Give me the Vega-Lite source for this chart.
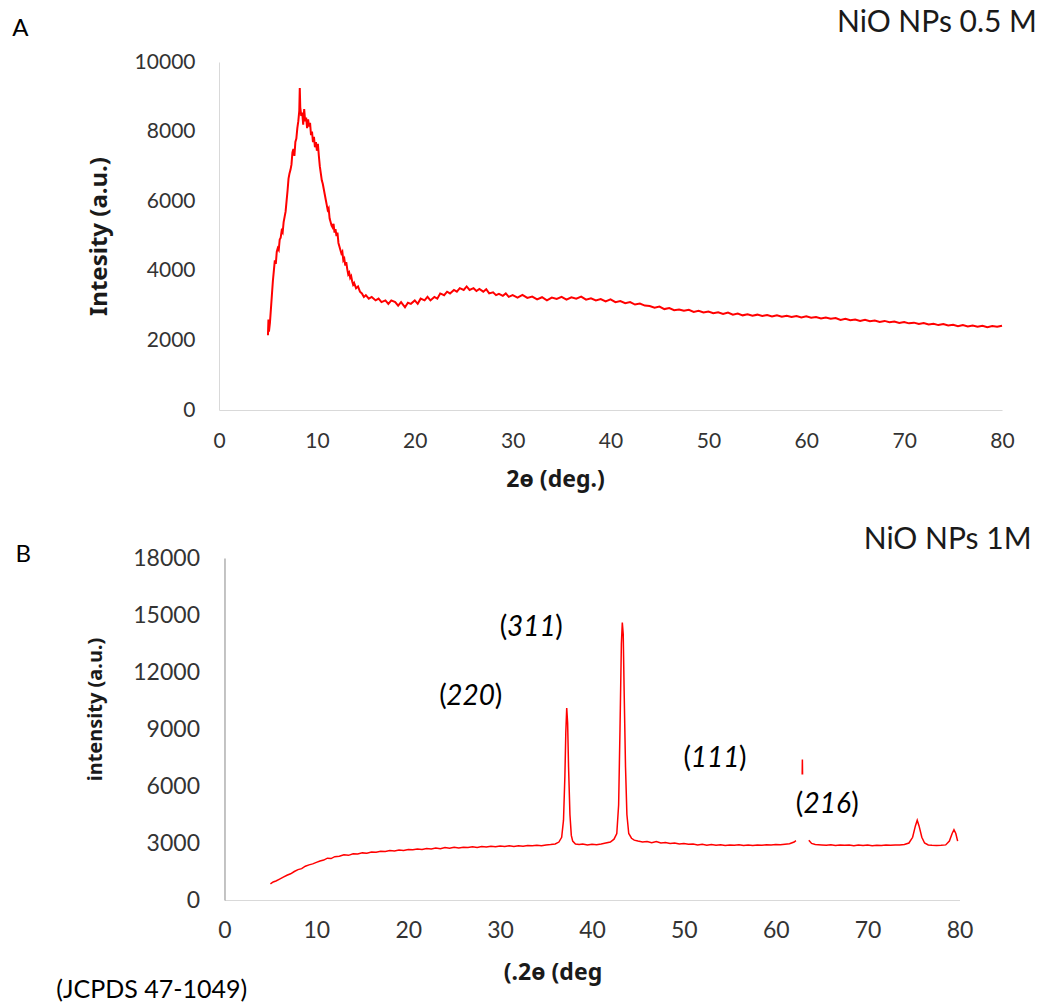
{
"$schema": "https://vega.github.io/schema/vega-lite/v6.json",
"padding": {"left": 12, "top": 7, "right": 4, "bottom": 0},
"background": "white",
"center": true,
"spacing": 34,
"config": {"view": {"stroke": null}, "font": "Lato",
  "axis": {"grid": false, "ticks": false, "tickSize": 0, "labelFont": "Lato", "titleFont": "Noto Sans", "labelColor": "#333333", "titleColor": "#1a1a1a", "titleFontWeight": "bold", "labelFlush": false, "labelOverlap": false, "format": "d"}},
"datasets": {
"a": [
{"x":5.0,"y":2150},{"x":5.05,"y":2600},{"x":5.1,"y":2250},{"x":5.2,"y":2500},{"x":5.3,"y":2900},{"x":5.4,"y":3300},{"x":5.5,"y":3700},{"x":5.6,"y":4000},{"x":5.7,"y":4300},{"x":5.8,"y":4200},{"x":5.9,"y":4550},{"x":6.0,"y":4650},{"x":6.1,"y":4600},{"x":6.2,"y":4900},{"x":6.3,"y":4950},{"x":6.4,"y":5150},{"x":6.5,"y":5100},{"x":6.6,"y":5400},{"x":6.7,"y":5550},{"x":6.8,"y":5700},{"x":6.9,"y":6000},{"x":7.0,"y":6300},{"x":7.1,"y":6650},{"x":7.2,"y":6800},{"x":7.3,"y":6900},{"x":7.4,"y":7050},{"x":7.5,"y":7400},{"x":7.6,"y":7500},{"x":7.7,"y":7300},{"x":7.8,"y":7700},{"x":7.9,"y":7800},{"x":8.0,"y":8100},{"x":8.1,"y":8300},{"x":8.2,"y":8600},{"x":8.25,"y":9250},{"x":8.3,"y":8700},{"x":8.4,"y":8450},{"x":8.5,"y":8550},{"x":8.6,"y":8200},{"x":8.7,"y":8650},{"x":8.8,"y":8300},{"x":8.9,"y":8400},{"x":9.0,"y":8100},{"x":9.1,"y":8350},{"x":9.2,"y":8150},{"x":9.3,"y":8250},{"x":9.4,"y":7900},{"x":9.5,"y":8000},{"x":9.6,"y":7700},{"x":9.7,"y":7850},{"x":9.8,"y":7550},{"x":9.9,"y":7700},{"x":10.0,"y":7450},{"x":10.1,"y":7650},{"x":10.2,"y":7300},{"x":10.3,"y":7000},{"x":10.4,"y":6800},{"x":10.5,"y":6600},{"x":10.6,"y":6500},{"x":10.7,"y":6350},{"x":10.8,"y":6200},{"x":10.9,"y":6050},{"x":11.0,"y":5900},{"x":11.1,"y":5750},{"x":11.2,"y":5800},{"x":11.3,"y":5500},{"x":11.4,"y":5400},{"x":11.5,"y":5300},{"x":11.6,"y":5250},{"x":11.7,"y":5350},{"x":11.8,"y":5100},{"x":11.9,"y":5200},{"x":12.0,"y":5000},{"x":12.1,"y":5100},{"x":12.2,"y":4800},{"x":12.3,"y":4700},{"x":12.4,"y":4600},{"x":12.5,"y":4500},{"x":12.6,"y":4550},{"x":12.7,"y":4300},{"x":12.8,"y":4350},{"x":12.9,"y":4150},{"x":13.0,"y":4250},{"x":13.1,"y":4050},{"x":13.2,"y":3900},{"x":13.3,"y":3950},{"x":13.4,"y":3800},{"x":13.5,"y":3850},{"x":13.6,"y":3700},{"x":13.7,"y":3600},{"x":13.8,"y":3650},{"x":14.0,"y":3500},{"x":14.2,"y":3550},{"x":14.4,"y":3400},{"x":14.6,"y":3350},{"x":14.8,"y":3250},{"x":15.0,"y":3300},{"x":15.3,"y":3200},{"x":15.6,"y":3250},{"x":16.0,"y":3150},{"x":16.3,"y":3200},{"x":16.6,"y":3100},{"x":17.0,"y":3150},{"x":17.3,"y":3050},{"x":17.6,"y":3150},{"x":18.0,"y":3100},{"x":18.3,"y":3000},{"x":18.6,"y":3100},{"x":19.0,"y":2950},{"x":19.3,"y":3080},{"x":19.6,"y":3050},{"x":20.0,"y":3150},{"x":20.3,"y":3050},{"x":20.6,"y":3200},{"x":21.0,"y":3150},{"x":21.3,"y":3250},{"x":21.6,"y":3150},{"x":22.0,"y":3250},{"x":22.3,"y":3200},{"x":22.6,"y":3350},{"x":23.0,"y":3300},{"x":23.3,"y":3400},{"x":23.6,"y":3350},{"x":24.0,"y":3450},{"x":24.3,"y":3400},{"x":24.6,"y":3500},{"x":25.0,"y":3450},{"x":25.3,"y":3550},{"x":25.6,"y":3450},{"x":26.0,"y":3500},{"x":26.3,"y":3420},{"x":26.6,"y":3480},{"x":27.0,"y":3400},{"x":27.3,"y":3470},{"x":27.6,"y":3350},{"x":28.0,"y":3380},{"x":28.3,"y":3300},{"x":28.6,"y":3340},{"x":29.0,"y":3280},{"x":29.3,"y":3350},{"x":29.6,"y":3250},{"x":30.0,"y":3300},{"x":30.5,"y":3230},{"x":31.0,"y":3310},{"x":31.5,"y":3220},{"x":32.0,"y":3260},{"x":32.5,"y":3180},{"x":33.0,"y":3240},{"x":33.5,"y":3150},{"x":34.0,"y":3230},{"x":34.5,"y":3190},{"x":35.0,"y":3250},{"x":35.5,"y":3170},{"x":36.0,"y":3240},{"x":36.5,"y":3200},{"x":37.0,"y":3260},{"x":37.5,"y":3170},{"x":38.0,"y":3210},{"x":38.5,"y":3150},{"x":39.0,"y":3190},{"x":39.5,"y":3120},{"x":40.0,"y":3180},{"x":40.5,"y":3100},{"x":41.0,"y":3130},{"x":41.5,"y":3070},{"x":42.0,"y":3100},{"x":42.5,"y":3030},{"x":43.0,"y":3060},{"x":43.5,"y":3000},{"x":44.0,"y":2990},{"x":44.5,"y":2940},{"x":45.0,"y":2970},{"x":45.5,"y":2900},{"x":46.0,"y":2930},{"x":46.5,"y":2870},{"x":47.0,"y":2890},{"x":47.5,"y":2850},{"x":48.0,"y":2880},{"x":48.5,"y":2820},{"x":49.0,"y":2850},{"x":49.5,"y":2800},{"x":50.0,"y":2830},{"x":50.5,"y":2780},{"x":51.0,"y":2810},{"x":51.5,"y":2760},{"x":52.0,"y":2800},{"x":52.5,"y":2740},{"x":53.0,"y":2770},{"x":53.5,"y":2720},{"x":54.0,"y":2750},{"x":54.5,"y":2710},{"x":55.0,"y":2740},{"x":55.5,"y":2700},{"x":56.0,"y":2730},{"x":56.5,"y":2690},{"x":57.0,"y":2720},{"x":57.5,"y":2680},{"x":58.0,"y":2710},{"x":58.5,"y":2670},{"x":59.0,"y":2700},{"x":59.5,"y":2660},{"x":60.0,"y":2690},{"x":60.5,"y":2650},{"x":61.0,"y":2670},{"x":61.5,"y":2630},{"x":62.0,"y":2660},{"x":62.5,"y":2620},{"x":63.0,"y":2640},{"x":63.5,"y":2590},{"x":64.0,"y":2620},{"x":64.5,"y":2580},{"x":65.0,"y":2600},{"x":65.5,"y":2560},{"x":66.0,"y":2590},{"x":66.5,"y":2550},{"x":67.0,"y":2570},{"x":67.5,"y":2530},{"x":68.0,"y":2560},{"x":68.5,"y":2520},{"x":69.0,"y":2540},{"x":69.5,"y":2500},{"x":70.0,"y":2530},{"x":70.5,"y":2490},{"x":71.0,"y":2510},{"x":71.5,"y":2470},{"x":72.0,"y":2500},{"x":72.5,"y":2460},{"x":73.0,"y":2480},{"x":73.5,"y":2440},{"x":74.0,"y":2470},{"x":74.5,"y":2430},{"x":75.0,"y":2450},{"x":75.5,"y":2410},{"x":76.0,"y":2440},{"x":76.5,"y":2400},{"x":77.0,"y":2430},{"x":77.5,"y":2390},{"x":78.0,"y":2420},{"x":78.5,"y":2380},{"x":79.0,"y":2410},{"x":79.5,"y":2390},{"x":80.0,"y":2420}
],
"b": [
{"s":1,"x":5.0,"y":850},{"s":1,"x":5.3,"y":950},{"s":1,"x":5.6,"y":1000},{"s":1,"x":6.0,"y":1100},{"s":1,"x":6.4,"y":1200},{"s":1,"x":6.8,"y":1300},{"s":1,"x":7.2,"y":1380},{"s":1,"x":7.6,"y":1500},{"s":1,"x":8.0,"y":1600},{"s":1,"x":8.4,"y":1650},{"s":1,"x":8.8,"y":1780},{"s":1,"x":9.2,"y":1850},{"s":1,"x":9.6,"y":1900},{"s":1,"x":10.0,"y":1980},{"s":1,"x":10.4,"y":2050},{"s":1,"x":10.8,"y":2100},{"s":1,"x":11.2,"y":2200},{"s":1,"x":11.6,"y":2180},{"s":1,"x":12.0,"y":2280},{"s":1,"x":12.5,"y":2300},{"s":1,"x":13.0,"y":2380},{"s":1,"x":13.5,"y":2350},{"s":1,"x":14.0,"y":2430},{"s":1,"x":14.5,"y":2420},{"s":1,"x":15.0,"y":2480},{"s":1,"x":15.5,"y":2460},{"s":1,"x":16.0,"y":2530},{"s":1,"x":16.5,"y":2510},{"s":1,"x":17.0,"y":2560},{"s":1,"x":17.5,"y":2550},{"s":1,"x":18.0,"y":2600},{"s":1,"x":18.5,"y":2580},{"s":1,"x":19.0,"y":2630},{"s":1,"x":19.5,"y":2610},{"s":1,"x":20.0,"y":2660},{"s":1,"x":20.5,"y":2640},{"s":1,"x":21.0,"y":2680},{"s":1,"x":21.5,"y":2660},{"s":1,"x":22.0,"y":2710},{"s":1,"x":22.5,"y":2690},{"s":1,"x":23.0,"y":2730},{"s":1,"x":23.5,"y":2700},{"s":1,"x":24.0,"y":2760},{"s":1,"x":24.5,"y":2720},{"s":1,"x":25.0,"y":2770},{"s":1,"x":25.5,"y":2740},{"s":1,"x":26.0,"y":2780},{"s":1,"x":26.5,"y":2760},{"s":1,"x":27.0,"y":2800},{"s":1,"x":27.5,"y":2770},{"s":1,"x":28.0,"y":2810},{"s":1,"x":28.5,"y":2790},{"s":1,"x":29.0,"y":2830},{"s":1,"x":29.5,"y":2800},{"s":1,"x":30.0,"y":2840},{"s":1,"x":30.5,"y":2810},{"s":1,"x":31.0,"y":2850},{"s":1,"x":31.5,"y":2820},{"s":1,"x":32.0,"y":2860},{"s":1,"x":32.5,"y":2830},{"s":1,"x":33.0,"y":2870},{"s":1,"x":33.5,"y":2850},{"s":1,"x":34.0,"y":2880},{"s":1,"x":34.5,"y":2860},{"s":1,"x":35.0,"y":2900},{"s":1,"x":35.5,"y":2920},{"s":1,"x":36.0,"y":2950},{"s":1,"x":36.4,"y":3050},{"s":1,"x":36.7,"y":3300},{"s":1,"x":36.9,"y":4200},{"s":1,"x":37.05,"y":6500},{"s":1,"x":37.15,"y":8800},{"s":1,"x":37.25,"y":10100},{"s":1,"x":37.35,"y":9300},{"s":1,"x":37.45,"y":7000},{"s":1,"x":37.6,"y":4500},{"s":1,"x":37.75,"y":3400},{"s":1,"x":37.9,"y":3100},{"s":1,"x":38.2,"y":2950},{"s":1,"x":38.6,"y":2920},{"s":1,"x":39.0,"y":2950},{"s":1,"x":39.5,"y":2900},{"s":1,"x":40.0,"y":2930},{"s":1,"x":40.5,"y":2910},{"s":1,"x":41.0,"y":2950},{"s":1,"x":41.5,"y":3000},{"s":1,"x":42.0,"y":3050},{"s":1,"x":42.4,"y":3200},{"s":1,"x":42.7,"y":3500},{"s":1,"x":42.9,"y":5000},{"s":1,"x":43.05,"y":9000},{"s":1,"x":43.2,"y":13500},{"s":1,"x":43.3,"y":14600},{"s":1,"x":43.4,"y":14000},{"s":1,"x":43.5,"y":11000},{"s":1,"x":43.65,"y":7000},{"s":1,"x":43.8,"y":4500},{"s":1,"x":44.0,"y":3500},{"s":1,"x":44.3,"y":3250},{"s":1,"x":44.6,"y":3150},{"s":1,"x":45.0,"y":3100},{"s":1,"x":45.5,"y":3050},{"s":1,"x":46.0,"y":3080},{"s":1,"x":46.5,"y":3020},{"s":1,"x":47.0,"y":3080},{"s":1,"x":47.5,"y":3000},{"s":1,"x":48.0,"y":3020},{"s":1,"x":48.5,"y":2980},{"s":1,"x":49.0,"y":3000},{"s":1,"x":49.5,"y":2950},{"s":1,"x":50.0,"y":2970},{"s":1,"x":50.5,"y":2930},{"s":1,"x":51.0,"y":2950},{"s":1,"x":51.5,"y":2900},{"s":1,"x":52.0,"y":2930},{"s":1,"x":52.5,"y":2880},{"s":1,"x":53.0,"y":2920},{"s":1,"x":53.5,"y":2880},{"s":1,"x":54.0,"y":2910},{"s":1,"x":54.5,"y":2870},{"s":1,"x":55.0,"y":2900},{"s":1,"x":55.5,"y":2880},{"s":1,"x":56.0,"y":2910},{"s":1,"x":56.5,"y":2870},{"s":1,"x":57.0,"y":2900},{"s":1,"x":57.5,"y":2870},{"s":1,"x":58.0,"y":2900},{"s":1,"x":58.5,"y":2880},{"s":1,"x":59.0,"y":2910},{"s":1,"x":59.5,"y":2890},{"s":1,"x":60.0,"y":2920},{"s":1,"x":60.5,"y":2910},{"s":1,"x":61.0,"y":2940},{"s":1,"x":61.5,"y":2960},{"s":1,"x":62.0,"y":3050},{"s":1,"x":62.2,"y":3120},
{"s":2,"x":62.88,"y":6600},{"s":2,"x":62.9,"y":7400},{"s":2,"x":62.92,"y":6600},
{"s":3,"x":63.6,"y":3150},{"s":3,"x":63.9,"y":2980},{"s":3,"x":64.3,"y":2920},{"s":3,"x":65.0,"y":2900},{"s":3,"x":65.5,"y":2880},{"s":3,"x":66.0,"y":2910},{"s":3,"x":66.5,"y":2870},{"s":3,"x":67.0,"y":2900},{"s":3,"x":67.5,"y":2880},{"s":3,"x":68.0,"y":2890},{"s":3,"x":68.5,"y":2860},{"s":3,"x":69.0,"y":2900},{"s":3,"x":69.5,"y":2870},{"s":3,"x":70.0,"y":2890},{"s":3,"x":70.5,"y":2860},{"s":3,"x":71.0,"y":2880},{"s":3,"x":71.5,"y":2870},{"s":3,"x":72.0,"y":2900},{"s":3,"x":72.5,"y":2880},{"s":3,"x":73.0,"y":2900},{"s":3,"x":73.5,"y":2890},{"s":3,"x":74.0,"y":2920},{"s":3,"x":74.5,"y":3000},{"s":3,"x":74.9,"y":3300},{"s":3,"x":75.2,"y":3900},{"s":3,"x":75.4,"y":4200},{"s":3,"x":75.6,"y":3900},{"s":3,"x":75.9,"y":3300},{"s":3,"x":76.2,"y":3000},{"s":3,"x":76.6,"y":2900},{"s":3,"x":77.0,"y":2880},{"s":3,"x":77.5,"y":2870},{"s":3,"x":78.0,"y":2880},{"s":3,"x":78.5,"y":2900},{"s":3,"x":78.9,"y":3100},{"s":3,"x":79.2,"y":3500},{"s":3,"x":79.4,"y":3700},{"s":3,"x":79.6,"y":3500},{"s":3,"x":79.8,"y":3100}
],
"hkl": [
{"t":"311","x":33.4,"y":14316},{"t":"220","x":26.8,"y":10684},{"t":"111","x":53.4,"y":7421},{"t":"216","x":65.6,"y":5000}
]
},
"vconcat": [
{
  "width": 783, "height": 348,
  "layer": [
    {"data": {"name": "a"},
     "mark": {"type": "line", "color": "#ff0000", "strokeWidth": 2},
     "encoding": {
       "x": {"field": "x", "type": "quantitative", "scale": {"domain": [0, 80]},
             "axis": {"values": [0,10,20,30,40,50,60,70,80], "title": "2ɵ (deg.)", "labelFontSize": 21, "labelPadding": 20, "titleFontSize": 23, "titlePadding": 17, "titleX": 336, "domainColor": "#d9d9d9"}},
       "y": {"field": "y", "type": "quantitative", "scale": {"domain": [0, 10000]},
             "axis": {"values": [0,2000,4000,6000,8000,10000], "title": "Intesity (a.u.)", "labelFontSize": 21, "labelPadding": 24, "titleFontSize": 24, "titlePadding": 23, "domainColor": "#d9d9d9"}}
     }},
    {"data": {"values": [{"t": "A", "x": -20.3, "y": 10948}]},
     "mark": {"type": "text", "fontSize": 24, "color": "#000000", "baseline": "middle", "align": "center"},
     "encoding": {"x": {"field": "x", "type": "quantitative", "title": "2ɵ (deg.)"}, "y": {"field": "y", "type": "quantitative", "title": "Intesity (a.u.)"}, "text": {"field": "t"}}},
    {"data": {"values": [{"t": "NiO NPs 0.5 M", "x": 83.57, "y": 11121}]},
     "mark": {"type": "text", "fontSize": 30, "color": "#1a1a1a", "baseline": "middle", "align": "right"},
     "encoding": {"x": {"field": "x", "type": "quantitative", "title": "2ɵ (deg.)"}, "y": {"field": "y", "type": "quantitative", "title": "Intesity (a.u.)"}, "text": {"field": "t"}}}
  ]
},
{
  "width": 735, "height": 342,
  "layer": [
    {"data": {"name": "b"},
     "mark": {"type": "line", "color": "#ff0000", "strokeWidth": 1.5},
     "encoding": {
       "x": {"field": "x", "type": "quantitative", "scale": {"domain": [0, 80]},
             "axis": {"values": [0,10,20,30,40,50,60,70,80], "title": "(.2ɵ (deg", "labelFontSize": 23, "labelPadding": 19, "titleFontSize": 23, "titlePadding": 19, "titleX": 328, "domainColor": "#d9d9d9"}},
       "y": {"field": "y", "type": "quantitative", "scale": {"domain": [0, 18000]},
             "axis": {"values": [0,3000,6000,9000,12000,15000,18000], "title": "intensity (a.u.)", "labelFontSize": 23, "labelPadding": 25, "titleFontSize": 20, "titlePadding": 27, "titleY": 151, "domainColor": "#898989"}},
       "detail": {"field": "s", "type": "nominal"}
     }},
    {"data": {"name": "hkl"},
     "mark": {"type": "text", "fontSize": 28, "fontStyle": "italic", "color": "#000000", "baseline": "middle", "align": "center"},
     "encoding": {"x": {"field": "x", "type": "quantitative", "title": "(.2ɵ (deg"}, "y": {"field": "y", "type": "quantitative", "title": "intensity (a.u.)"}, "text": {"field": "t"}}},
    {"data": {"name": "hkl"},
     "mark": {"type": "text", "fontSize": 28, "color": "#000000", "baseline": "middle", "align": "right", "dx": -24},
     "encoding": {"x": {"field": "x", "type": "quantitative", "title": "(.2ɵ (deg"}, "y": {"field": "y", "type": "quantitative", "title": "intensity (a.u.)"}, "text": {"value": "("}}},
    {"data": {"name": "hkl"},
     "mark": {"type": "text", "fontSize": 28, "color": "#000000", "baseline": "middle", "align": "left", "dx": 24},
     "encoding": {"x": {"field": "x", "type": "quantitative", "title": "(.2ɵ (deg"}, "y": {"field": "y", "type": "quantitative", "title": "intensity (a.u.)"}, "text": {"value": ")"}}},
    {"data": {"values": [{"t": "B", "x": -21.9, "y": 18158}]},
     "mark": {"type": "text", "fontSize": 24, "color": "#000000", "baseline": "middle", "align": "center"},
     "encoding": {"x": {"field": "x", "type": "quantitative", "title": "(.2ɵ (deg"}, "y": {"field": "y", "type": "quantitative", "title": "intensity (a.u.)"}, "text": {"field": "t"}}},
    {"data": {"values": [{"t": "NiO NPs 1M", "x": 87.84, "y": 18947}]},
     "mark": {"type": "text", "fontSize": 30, "color": "#1a1a1a", "baseline": "middle", "align": "right"},
     "encoding": {"x": {"field": "x", "type": "quantitative", "title": "(.2ɵ (deg"}, "y": {"field": "y", "type": "quantitative", "title": "intensity (a.u.)"}, "text": {"field": "t"}}},
    {"data": {"values": [{"t": "(JCPDS 47-1049)", "x": -18.3, "y": -4737}]},
     "mark": {"type": "text", "fontSize": 25, "color": "#000000", "baseline": "middle", "align": "left"},
     "encoding": {"x": {"field": "x", "type": "quantitative", "title": "(.2ɵ (deg"}, "y": {"field": "y", "type": "quantitative", "title": "intensity (a.u.)"}, "text": {"field": "t"}}}
  ]
}
]
}
